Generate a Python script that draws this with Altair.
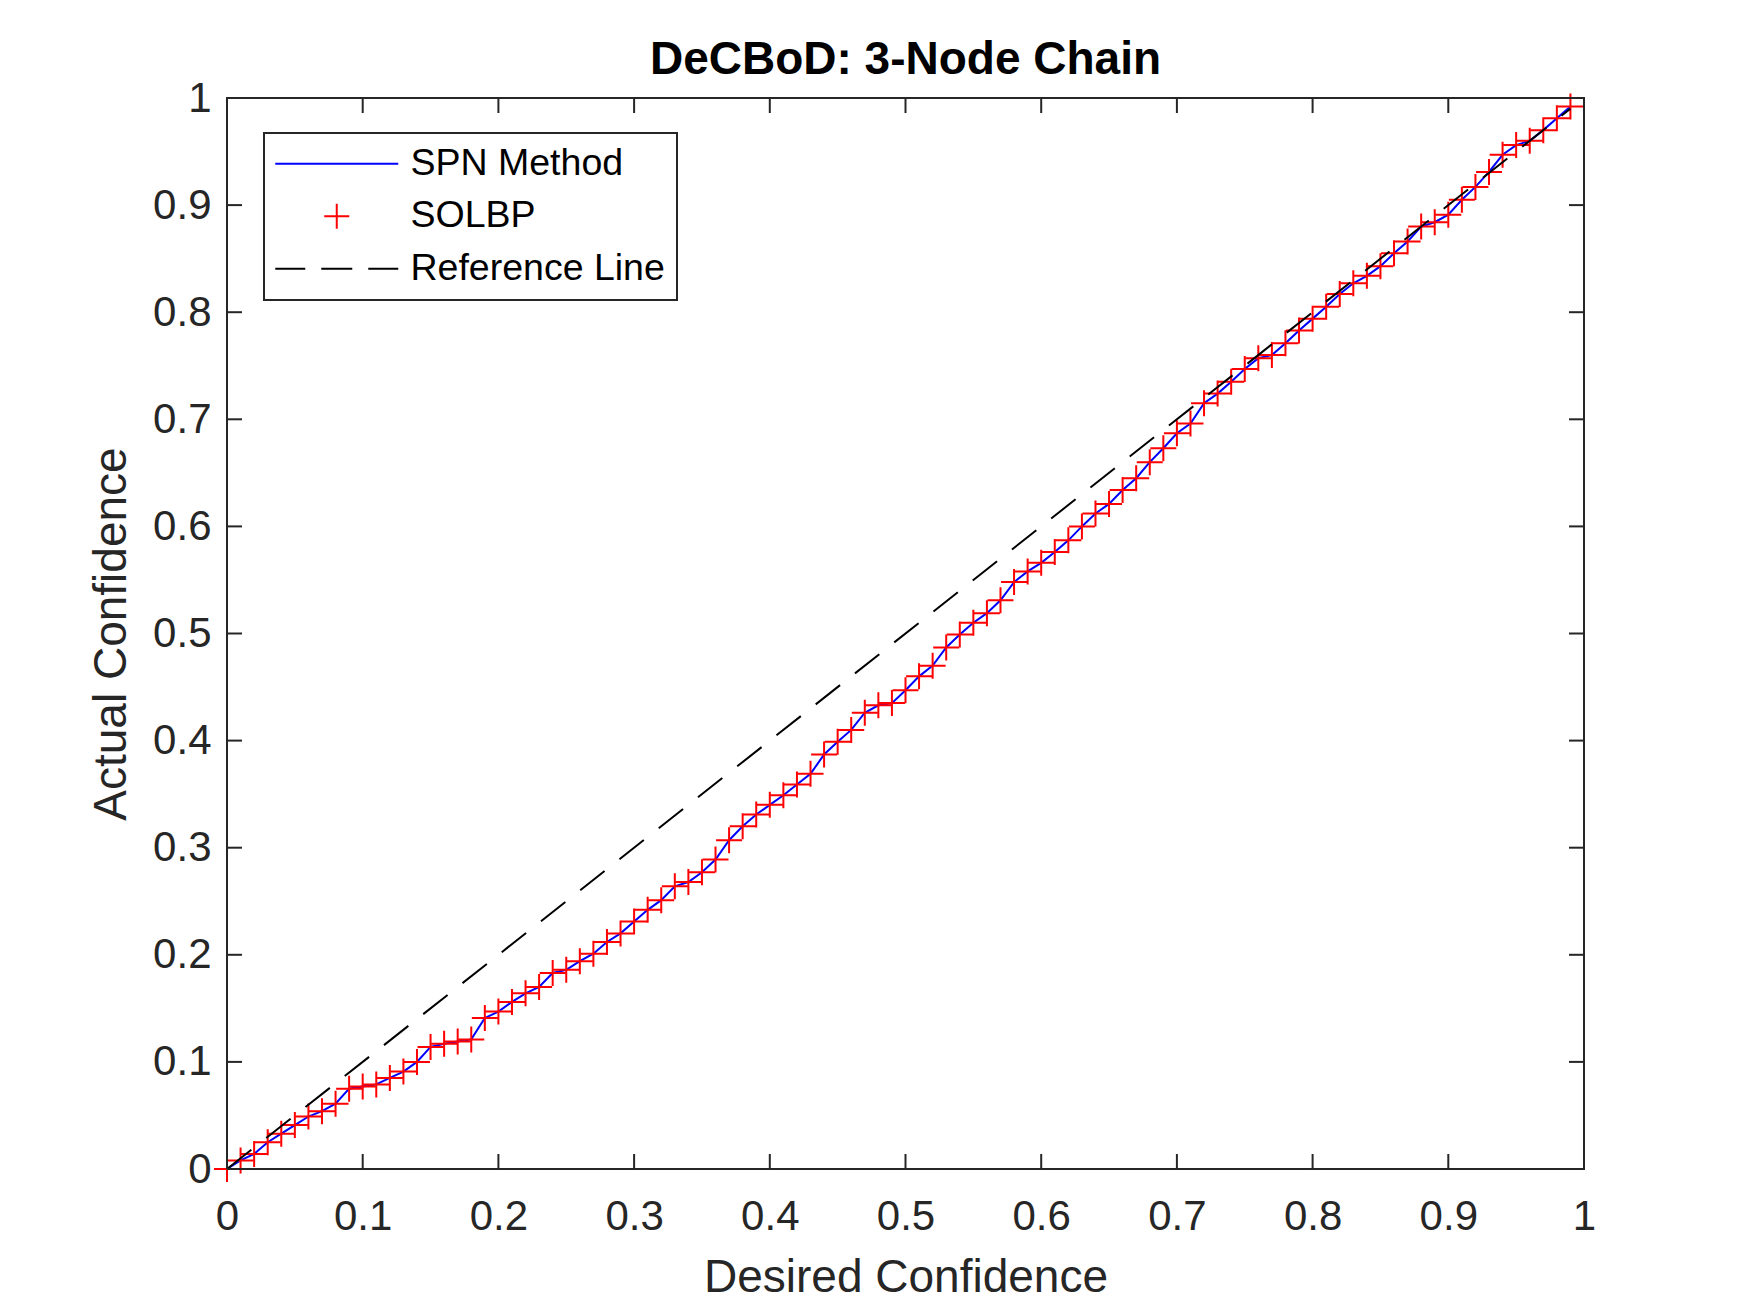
import altair as alt
import pandas as pd

FONT = "Liberation Sans"
AXIS_COLOR = "#262626"

# ---- data ----
desired = [0.00, 0.01, 0.02, 0.03, 0.04, 0.05, 0.06, 0.07, 0.08, 0.09,
           0.10, 0.11, 0.12, 0.13, 0.14, 0.15, 0.16, 0.17, 0.18, 0.19,
           0.20, 0.21, 0.22, 0.23, 0.24, 0.25, 0.26, 0.27, 0.28, 0.29,
           0.30, 0.31, 0.32, 0.33, 0.34, 0.35, 0.36, 0.37, 0.38, 0.39,
           0.40, 0.41, 0.42, 0.43, 0.44, 0.45, 0.46, 0.47, 0.48, 0.49,
           0.50, 0.51, 0.52, 0.53, 0.54, 0.55, 0.56, 0.57, 0.58, 0.59,
           0.60, 0.61, 0.62, 0.63, 0.64, 0.65, 0.66, 0.67, 0.68, 0.69,
           0.70, 0.71, 0.72, 0.73, 0.74, 0.75, 0.76, 0.77, 0.78, 0.79,
           0.80, 0.81, 0.82, 0.83, 0.84, 0.85, 0.86, 0.87, 0.88, 0.89,
           0.90, 0.91, 0.92, 0.93, 0.94, 0.95, 0.96, 0.97, 0.98, 0.99]

spn_actual = [0.000, 0.008, 0.014, 0.025, 0.033, 0.041, 0.049, 0.054, 0.061, 0.075,
              0.077, 0.079, 0.085, 0.091, 0.100, 0.114, 0.117, 0.119, 0.121, 0.141,
              0.147, 0.156, 0.164, 0.170, 0.183, 0.186, 0.194, 0.201, 0.212, 0.220,
              0.231, 0.242, 0.251, 0.264, 0.268, 0.277, 0.289, 0.307, 0.320, 0.331,
              0.340, 0.349, 0.359, 0.369, 0.387, 0.399, 0.410, 0.426, 0.433, 0.435,
              0.447, 0.460, 0.470, 0.487, 0.499, 0.510, 0.519, 0.531, 0.548, 0.558,
              0.566, 0.576, 0.587, 0.600, 0.612, 0.621, 0.634, 0.645, 0.660, 0.673,
              0.687, 0.696, 0.715, 0.724, 0.735, 0.747, 0.757, 0.760, 0.771, 0.783,
              0.794, 0.805, 0.817, 0.827, 0.834, 0.843, 0.855, 0.866, 0.880, 0.884,
              0.891, 0.905, 0.917, 0.931, 0.947, 0.956, 0.960, 0.970, 0.981, 0.992]

solbp_actual = [0.000, 0.008, 0.014, 0.025, 0.033, 0.041, 0.049, 0.054, 0.061, 0.075,
                0.077, 0.079, 0.085, 0.091, 0.100, 0.114, 0.117, 0.119, 0.121, 0.141,
                0.147, 0.156, 0.164, 0.170, 0.183, 0.186, 0.194, 0.201, 0.212, 0.220,
                0.231, 0.242, 0.251, 0.264, 0.268, 0.277, 0.289, 0.307, 0.320, 0.331,
                0.340, 0.349, 0.359, 0.369, 0.387, 0.399, 0.410, 0.426, 0.433, 0.435,
                0.447, 0.460, 0.470, 0.487, 0.499, 0.510, 0.519, 0.531, 0.548, 0.558,
                0.566, 0.576, 0.587, 0.600, 0.612, 0.621, 0.634, 0.645, 0.660, 0.673,
                0.687, 0.696, 0.715, 0.724, 0.735, 0.747, 0.757, 0.760, 0.771, 0.783,
                0.794, 0.805, 0.817, 0.827, 0.834, 0.843, 0.855, 0.866, 0.880, 0.884,
                0.891, 0.905, 0.917, 0.931, 0.947, 0.956, 0.960, 0.970, 0.981, 0.992]

ref_x = [0.0, 0.99]
ref_y = [0.0, 0.99]

tick_values = [0.0, 0.1, 0.2, 0.3, 0.4, 0.5, 0.6, 0.7, 0.8, 0.9, 1.0]

series_names = ["SPN Method", "SOLBP", "Reference Line"]
series_colors = ["#0000FF", "#FF0000", "#000000"]
legend_paths = [
    "M-4.92,0H4.92",
    "M-1,0H1M0,-1V1",
    "M-4.92,0H-2.52M-1.24,0H1.24M2.52,0H4.92",
]

# ---- layout ----
W, H = 1357, 1071
TICK = 15
PLUS = "M-1,0H1M0,-1V1"

df = pd.DataFrame({"desired": desired, "spn": spn_actual, "solbp": solbp_actual})
ref_df = pd.DataFrame({"x": ref_x, "y": ref_y})
tick_df = pd.DataFrame({"t": tick_values})
legend_df = pd.DataFrame({"series": series_names})

xs = alt.Scale(domain=[0, 1], nice=False, zero=False)
ys = alt.Scale(domain=[0, 1], nice=False, zero=False)

x_axis = alt.Axis(
    values=tick_values, format=".1~f", title="Desired Confidence",
    labelFont=FONT, labelFontSize=42, labelColor=AXIS_COLOR, labelPadding=27,
    labelFlush=False, labelOverlap=False,
    ticks=False, tickSize=0, domain=False, grid=False,
    titleFont=FONT, titleFontSize=46, titleFontWeight="normal", titleColor=AXIS_COLOR,
    titleBaseline="alphabetic", titleX=W / 2, titleY=122,
)
y_axis = alt.Axis(
    values=tick_values, format=".1~f", title="Actual Confidence",
    labelFont=FONT, labelFontSize=42, labelColor=AXIS_COLOR, labelPadding=16,
    labelOverlap=False,
    ticks=False, tickSize=0, domain=False, grid=False,
    titleFont=FONT, titleFontSize=46, titleFontWeight="normal", titleColor=AXIS_COLOR,
    titleBaseline="alphabetic", titleX=-102, titleY=H / 2,
)

spn = alt.Chart(df).mark_line(color="#0000FF", strokeWidth=2).encode(
    x=alt.X("desired:Q", scale=xs, axis=x_axis),
    y=alt.Y("spn:Q", scale=ys, axis=y_axis),
)

solbp = alt.Chart(df).mark_point(
    shape=PLUS, size=676, filled=False, color="#FF0000", strokeWidth=2, opacity=1
).encode(
    x=alt.X("desired:Q", scale=xs, axis=x_axis),
    y=alt.Y("solbp:Q", scale=ys, axis=y_axis),
)

ref = alt.Chart(ref_df).mark_line(color="#000000", strokeWidth=2, strokeDash=[31, 19]).encode(
    x=alt.X("x:Q", scale=xs, axis=x_axis),
    y=alt.Y("y:Q", scale=ys, axis=y_axis),
)

tick_style = dict(color=AXIS_COLOR, strokeWidth=2)
bottom_ticks = alt.Chart(tick_df).mark_rule(**tick_style).encode(
    x=alt.X("t:Q", scale=xs, axis=x_axis), y=alt.value(H), y2=alt.value(H - TICK))
top_ticks = alt.Chart(tick_df).mark_rule(**tick_style).encode(
    x=alt.X("t:Q", scale=xs, axis=x_axis), y=alt.value(0), y2=alt.value(TICK))
left_ticks = alt.Chart(tick_df).mark_rule(**tick_style).encode(
    y=alt.Y("t:Q", scale=ys, axis=y_axis), x=alt.value(0), x2=alt.value(TICK))
right_ticks = alt.Chart(tick_df).mark_rule(**tick_style).encode(
    y=alt.Y("t:Q", scale=ys, axis=y_axis), x=alt.value(W), x2=alt.value(W - TICK))

legend_kw = dict(
    title=None, orient="none", legendX=37, legendY=35, padding=12,
    fillColor="white", strokeColor=AXIS_COLOR,
    labelFont=FONT, labelFontSize=37.5, labelColor="#000000", labelLimit=0,
    symbolSize=625, symbolStrokeWidth=2, symbolOffset=42, labelOffset=55,
    rowPadding=13.5,
)

legend_layer = alt.Chart(legend_df).transform_filter("false").mark_point(
    filled=False, size=625, strokeWidth=2, opacity=1
).encode(
    color=alt.Color("series:N", scale=alt.Scale(domain=series_names, range=series_colors),
                    legend=alt.Legend(**legend_kw)),
    shape=alt.Shape("series:N", scale=alt.Scale(domain=series_names, range=legend_paths),
                    legend=alt.Legend(**legend_kw)),
)

chart = alt.layer(
    spn, solbp, ref, bottom_ticks, top_ticks, left_ticks, right_ticks, legend_layer
).properties(
    width=W, height=H,
    autosize=alt.AutoSizeParams(type="none"),
    padding={"left": 219, "top": 90, "right": 150, "bottom": 140},
    title=alt.TitleParams(
        text="DeCBoD: 3-Node Chain", font=FONT, fontSize=46, fontWeight="bold",
        color="#000000", anchor="middle", frame="group", baseline="alphabetic", offset=-43,
    ),
).configure_view(
    stroke=AXIS_COLOR, strokeWidth=2
).configure_legend(
    strokeWidth=2
)

chart.save("out.html", embed_options={"renderer": "svg", "actions": False})
